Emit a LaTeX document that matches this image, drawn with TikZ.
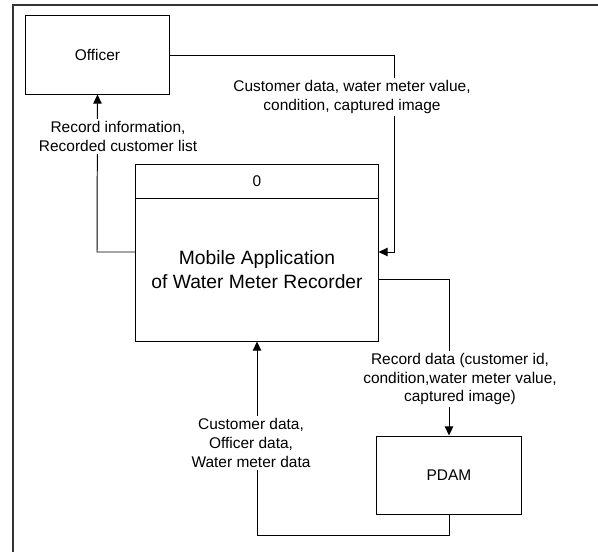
\documentclass[tikz,border=0pt]{standalone}
\usepackage{fontspec}
\setmainfont{Liberation Sans}
\usepackage{tikz}
\usetikzlibrary{positioning}
\usetikzlibrary{calc}
\usetikzlibrary{arrows, shapes, arrows.meta}
\tikzstyle{entity} = [rectangle, draw=black, line width=0.7pt, fill=white, minimum width=3.58cm, minimum height=1.95cm, inner sep=0pt, text centered, font=\fontsize{11}{13.5}\selectfont]
\tikzstyle{lbl} = [fill=white, inner sep=1.5pt, align=center, font=\fontsize{11}{13.5}\selectfont]
\tikzstyle{flow} = [line width=0.7pt, -{Triangle[length=6.5pt,width=6pt]}]

\begin{document}
\begin{tikzpicture}[x=0.025cm, y=-0.025cm]
\useasboundingbox (0,0) rectangle (598,552);
\draw[line width=0.8pt, black!80] (598,5) -- (13,5) -- (13,552); %frame
\draw (97.5,55) node (officer) [entity] {Officer};
\draw (449,475) node (pdam) [entity, minimum width=3.6cm] {PDAM};
\draw (257,181.5) node (procid) [entity, minimum width=6.05cm, minimum height=0.875cm] {0};
\draw (257,270) node (proc) [entity, minimum width=6.05cm, minimum height=3.55cm, align=center, font=\fontsize{13.7}{17}\selectfont] {Mobile Application\\of Water Meter Recorder};
\coordinate (c1) at (394,252);
\coordinate (c2) at (97,252);
\coordinate (c3) at (449,279);
\coordinate (c4) at (257,535);
\draw[flow] (officer.east) -| (c1) -- (c1 -| proc.east); %in
\draw[flow] (c2 -| proc.west) -- (c2) -- (officer.south); %out
\draw[flow] (c3 -| proc.east) -- (c3) -- (pdam.north);
\draw[flow] (pdam.south) |- (c4) -- (proc.south);
\node (l1) at (352,97) [lbl] {Customer data, water meter value,\\condition, captured image};
\node (l2) at (118,136.5) [lbl] {Record information,\\Recorded customer list};
\node (l3) at (460,379) [lbl] {Record data (customer id,\\condition,water meter value,\\captured image)};
\node (l4) at (251,443) [lbl] {Customer data,\\Officer data,\\Water meter data};
\end{tikzpicture}
\end{document}
